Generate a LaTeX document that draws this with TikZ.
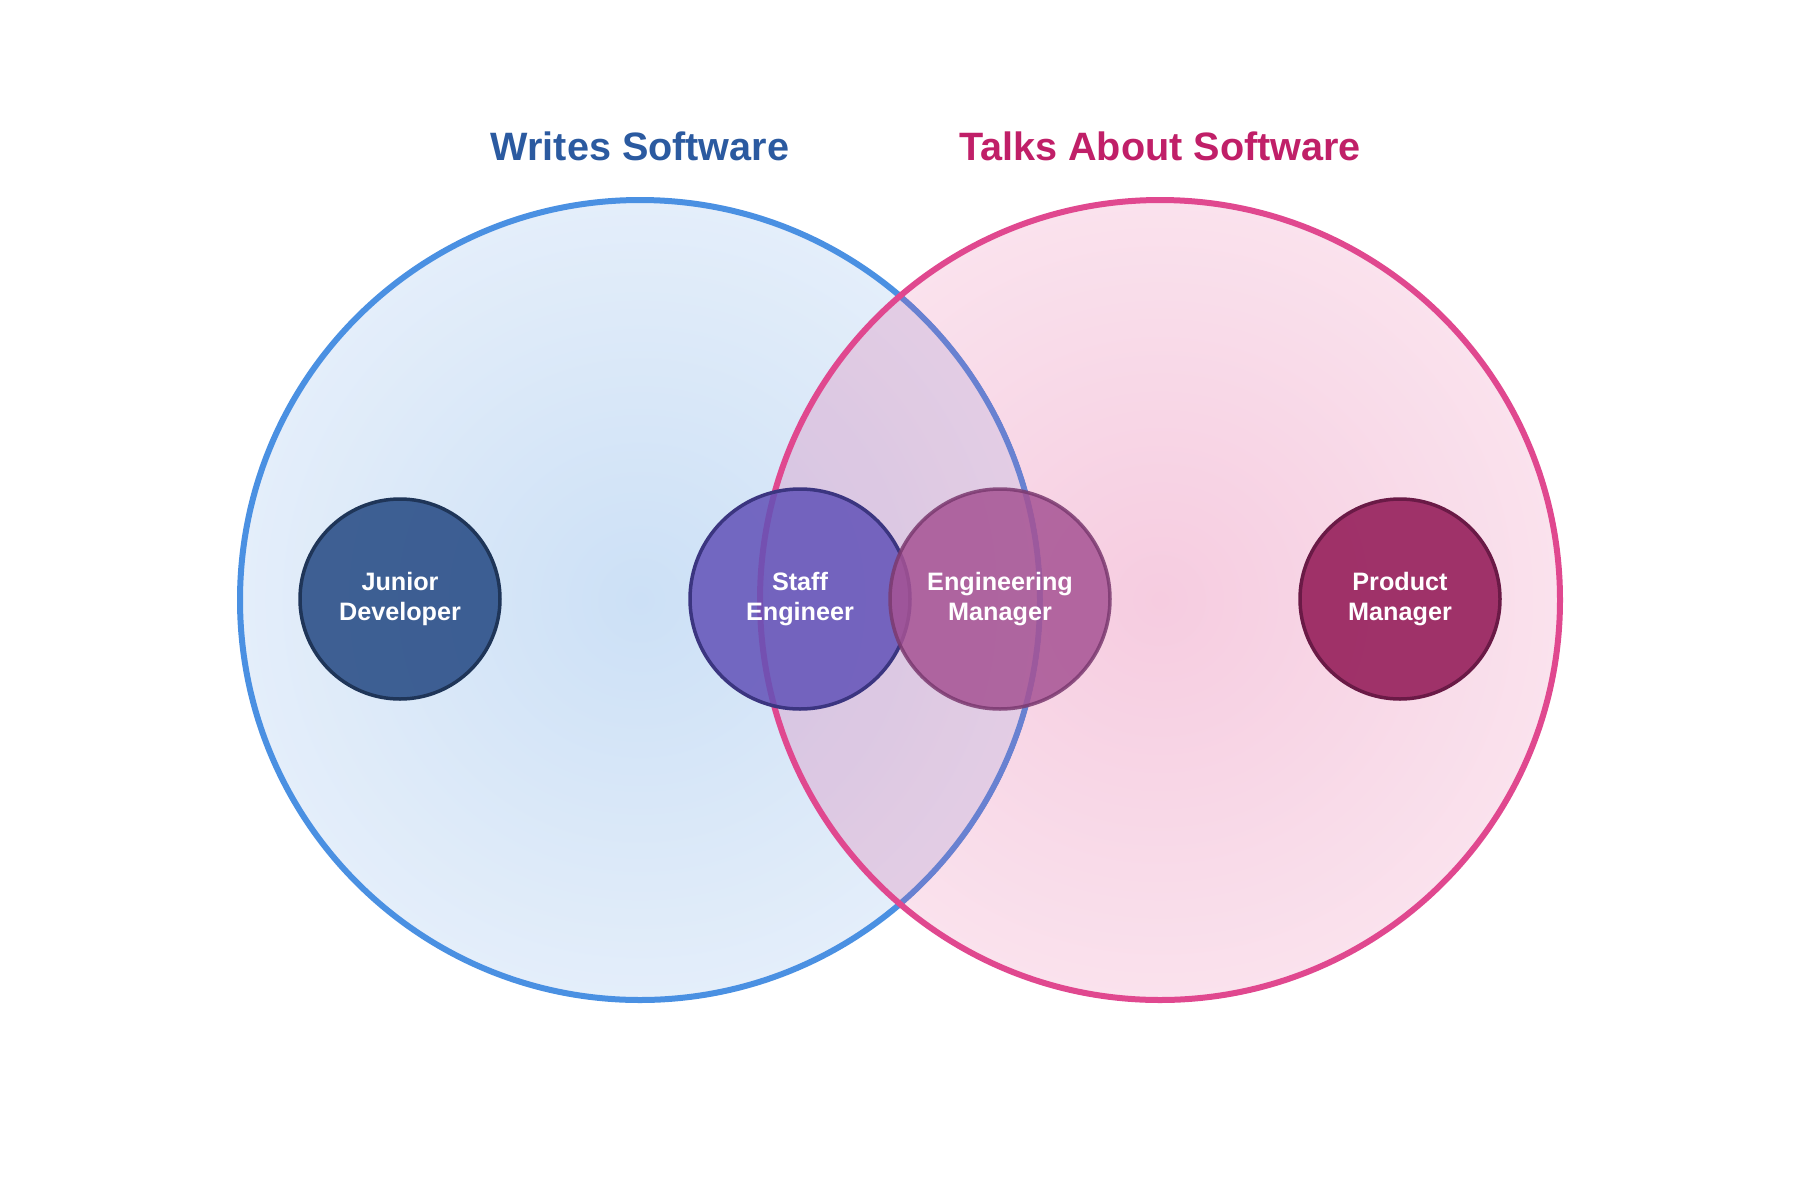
\documentclass[tikz,border=0pt]{standalone}
\usepackage{fontspec}
\setmainfont{Liberation Sans}
\definecolor{wsIn}{HTML}{CCE0F6}
\definecolor{wsOut}{HTML}{E4EEFA}
\definecolor{wsLine}{HTML}{4A90E2}
\definecolor{wsTitle}{HTML}{2B5AA0}
\definecolor{tsIn}{HTML}{F6CCE0}
\definecolor{tsOut}{HTML}{FAE2ED}
\definecolor{tsLine}{HTML}{E0488F}
\definecolor{tsTitle}{HTML}{C01F68}
\definecolor{jdFill}{HTML}{224782}
\definecolor{jdLine}{HTML}{1F3558}
\definecolor{seFill}{HTML}{6252B8}
\definecolor{seLine}{HTML}{3B3580}
\definecolor{emFill}{HTML}{A65394}
\definecolor{emLine}{HTML}{7B3A70}
\definecolor{pmFill}{HTML}{901553}
\definecolor{pmLine}{HTML}{6A1A46}
\tikzset{
  role/.style={circle, minimum size=#1, inner sep=0pt, line width=1.75pt,
    fill opacity=0.85, text opacity=1, text=white, align=center,
    font=\fontsize{12.6}{15}\selectfont\bfseries},
  settitle/.style={anchor=base, font=\fontsize{19.8}{24}\selectfont\bfseries},
  bigline/.style={line width=3pt},
}
\begin{document}
\begin{tikzpicture}[x=0.5pt, y=-0.5pt]
\useasboundingbox (0,0) rectangle (1800,1200);
\coordinate (wc) at (640,600);
\coordinate (tc) at (1160,600);
% Writes Software circle
\shade[inner color=wsIn, outer color=wsOut] (wc) circle[radius=200pt];
\draw[bigline, wsLine] (wc) circle[radius=200pt];
% Talks About Software circle (outside the first)
\begin{scope}[even odd rule]
  \clip (-10,-10) rectangle (1810,1210) (wc) circle[radius=201.5pt];
  \shade[inner color=tsIn, outer color=tsOut] (tc) circle[radius=200pt];
\end{scope}
% overlap
\begin{scope}
  \clip (wc) circle[radius=201.5pt];
  \fill[tsLine, fill opacity=0.2] (tc) circle[radius=200pt];
\end{scope}
\draw[bigline, tsLine] (tc) circle[radius=200pt];
% titles
\node[settitle, text=wsTitle] (wt) at (640,160) {Writes Software};
\node[settitle, text=tsTitle] (tt) at (1160,160) {Talks About Software};
% roles
\node[role=100pt, fill=jdFill, draw=jdLine] (jd) at (400,599) {Junior\\Developer};
\node[role=110pt, fill=seFill, draw=seLine] (se) at (800,599) {Staff\\Engineer};
\node[role=110pt, fill=emFill, draw=emLine, draw opacity=0.85] (em) at (1000,599) {Engineering\\Manager};
\node[role=100pt, fill=pmFill, draw=pmLine] (pm) at (1400,599) {Product\\Manager};
\end{tikzpicture}
\end{document}
